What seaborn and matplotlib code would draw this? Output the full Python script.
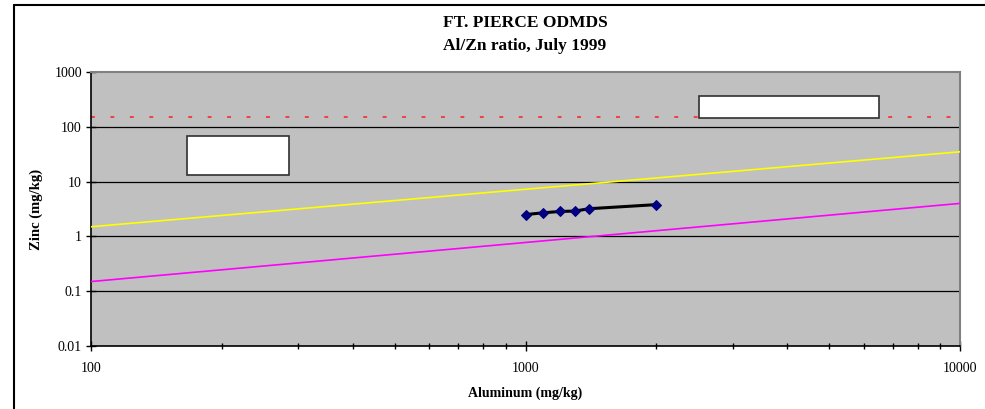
import matplotlib
matplotlib.use("Agg")
import matplotlib.pyplot as plt
import seaborn as sns
import pandas as pd
from matplotlib.lines import Line2D
from matplotlib.patches import Rectangle
from matplotlib.ticker import LogLocator, FixedLocator, FixedFormatter, NullFormatter

# Data
aluminum = [1000, 1100, 1200, 1300, 1400, 2000]
zinc = [2.5, 2.7, 2.85, 2.9, 3.2, 3.8]

ref_al = [100, 10000]
upper_zn = [1.5, 35]
lower_zn = [0.15, 4]
limit_zn = 150

x_ticks = [100, 1000, 10000]
x_labels = ["100", "1000", "10000"]
y_ticks = [0.01, 0.1, 1, 10, 100, 1000]
y_labels = ["0.01", "0.1", "1", "10", "100", "1000"]

sns.set_style("white")
plt.rcParams["font.family"] = ["Liberation Serif", "DejaVu Serif"]
plt.rcParams["text.color"] = "black"
plt.rcParams["axes.labelcolor"] = "black"

fig = plt.figure(figsize=(9.85, 4.09), dpi=100)
ax = fig.add_axes([91 / 985, 1 - 346 / 409, 869 / 985, 274 / 409])
ax.set_facecolor("#C0C0C0")

df = pd.DataFrame({"al": aluminum, "zn": zinc})
df_ref = pd.DataFrame({"al": ref_al, "upper": upper_zn, "lower": lower_zn})

ax.set_xscale("log")
ax.set_yscale("log")

for yv in y_ticks[1:-1]:
    ax.axhline(yv, color="black", lw=0.9, zorder=1)

ax.axhline(limit_zn, color="#F04040", lw=1.4, linestyle=(0, (2, 8)), zorder=2)
sns.lineplot(data=df_ref, x="al", y="upper", color="#FFFF00", lw=1.2, ax=ax, zorder=3)
sns.lineplot(data=df_ref, x="al", y="lower", color="#FF00FF", lw=1.2, ax=ax, zorder=3)
sns.lineplot(data=df, x="al", y="zn", color="black", lw=2.2, marker="D",
             markersize=5, markerfacecolor="#000080", markeredgecolor="#000080",
             ax=ax, zorder=4)

ax.set_xlim(100, 10000)
ax.set_ylim(0.01, 1000)

ax.xaxis.set_major_locator(FixedLocator(x_ticks))
ax.xaxis.set_major_formatter(FixedFormatter(x_labels))
ax.xaxis.set_minor_locator(LogLocator(base=10, subs=range(2, 10)))
ax.xaxis.set_minor_formatter(NullFormatter())
ax.yaxis.set_major_locator(FixedLocator(y_ticks))
ax.yaxis.set_major_formatter(FixedFormatter(y_labels))
ax.yaxis.set_minor_locator(FixedLocator([]))

ax.tick_params(axis="both", which="major", direction="inout", length=7, width=1,
               color="black", labelsize=10, labelcolor="black", bottom=True, left=True)
ax.tick_params(axis="x", which="major", pad=8)
ax.tick_params(axis="y", which="major", pad=3)
ax.tick_params(axis="x", which="minor", direction="inout", length=5, width=1,
               color="black", bottom=True)

for side in ["left", "bottom"]:
    ax.spines[side].set_color("black")
    ax.spines[side].set_linewidth(1.2)
for side in ["top", "right"]:
    ax.spines[side].set_color("#808080")
    ax.spines[side].set_linewidth(1.5)

ax.set_xlabel("Aluminum (mg/kg)", fontsize=10, fontweight="bold", labelpad=8)
ax.set_ylabel("Zinc (mg/kg)", fontsize=10.5, fontweight="bold", labelpad=8)

# empty label boxes
ax.add_patch(Rectangle((0.1105, 0.624), 0.1174, 0.1423, transform=ax.transAxes,
                       facecolor="white", edgecolor="#303030", lw=1.2, zorder=5))
ax.add_patch(Rectangle((0.6997, 0.832), 0.207, 0.0803, transform=ax.transAxes,
                       facecolor="white", edgecolor="#303030", lw=1.2, zorder=5))

fig.text(525 / 985, 1 - 23 / 409, "FT. PIERCE ODMDS", ha="center", va="center",
         fontsize=12.5, fontweight="bold")
fig.text(525 / 985, 1 - 46 / 409, "Al/Zn ratio, July 1999", ha="center", va="center",
         fontsize=12.5, fontweight="bold")

# chart frame
fig.add_artist(Line2D([14 / 985, 14 / 985], [0, 1 - 5 / 409], color="black", lw=1.5))
fig.add_artist(Line2D([14 / 985, 1], [1 - 5 / 409, 1 - 5 / 409], color="black", lw=1.5))

fig.savefig("out.png", dpi=100)
